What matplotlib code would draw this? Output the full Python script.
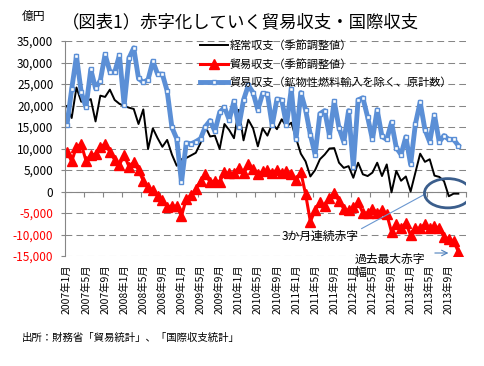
import matplotlib
matplotlib.use("Agg")
import matplotlib.pyplot as plt
from matplotlib.patches import Ellipse

plt.rcParams['font.family'] = ['Noto Sans CJK JP', 'DejaVu Sans']

# monthly values, 2007年1月 - 2013年11月 (億円)
current_account = [
    19900, 17100, 24200, 20900, 21000, 21500, 16300, 22300, 22000, 23700, 21300, 20400,
    19900, 19500, 19200, 15700, 19100, 9900, 14700, 12400, 10400, 12000, 8600, 6000,
    7500, 7800, 8400, 9000, 11300, 15100, 12800, 13000, 9900, 15700, 14300, 12400,
    19000, 11900, 16700, 14700, 10500, 14700, 13000, 15800, 14500, 16800, 15100, 16000,
    12400, 8800, 7000, 3500, 5000, 7500, 8600, 10000, 10100, 6700, 5500, 5900,
    3200, 6700, 4000, 3600, 4400, 6700, 3600, 6300, -200, 4800, 2500, 3500,
    0, 4400, 8800, 6900, 7500, 3700, 3400, 2400, -1100, -500, -500,
]
trade_sa = [
    9300, 7000, 10400, 11000, 7200, 8400, 8700, 10300, 11100, 9200, 7400, 6200,
    8500, 5800, 6800, 5000, 2500, 1000, 300, -1000, -2000, -3500, -3400, -3400,
    -5700, -1700, -900, 500, 2500, 4000, 2200, 2500, 2300, 4500, 4200, 4200,
    5500, 4200, 6300, 5300, 4000, 4700, 5000, 4400, 5000, 4400, 4700, 4000,
    2600, 4500, -600, -7000, -4300, -2500, -3300, -1400, -300, -2200, -4000, -4400,
    -3700, -2500, -5000, -5000, -4000, -5000, -4300, -5300, -9400, -7500, -8600, -7300,
    -10200, -8500, -8600, -7600, -8400, -8000, -8600, -10500, -11000, -11500, -14000,
]
trade_ex_fuel = [
    15400, 23800, 31500, 23100, 19600, 28400, 24000, 25800, 31900, 27900, 27700, 31700,
    20100, 31000, 33400, 26300, 25400, 26000, 30300, 27300, 27300, 23400, 14900, 12300,
    2100, 11300, 11100, 11600, 12300, 15100, 16500, 14000, 18400, 19600, 16700, 21000,
    15100, 21300, 24700, 23000, 19000, 22800, 22700, 15400, 21500, 21300, 15500, 23800,
    12200, 23000, 19000, 13200, 8600, 18100, 18800, 13000, 21000, 14800, 11500, 18800,
    5800, 21300, 21800, 17300, 12100, 19000, 12800, 12100, 16100, 10200, 8600, 12700,
    6300, 15700, 20800, 14400, 11500, 17800, 11500, 13000, 12100, 12100, 10700,
]
tick_labels = [
    '2007年1月', '2007年5月', '2007年9月', '2008年1月', '2008年5月', '2008年9月',
    '2009年1月', '2009年5月', '2009年9月', '2010年1月', '2010年5月', '2010年9月',
    '2011年1月', '2011年5月', '2011年9月', '2012年1月', '2012年5月', '2012年9月',
    '2013年1月', '2013年5月', '2013年9月',
]
y_ticks = [-15000, -10000, -5000, 0, 5000, 10000, 15000, 20000, 25000, 30000, 35000]

months = list(range(len(trade_sa)))
gray = '#868686'
blue = '#5B8FD6'

fig = plt.figure(figsize=(4.84, 3.66), dpi=100)
ax = fig.add_axes([0.1333, 0.3005, 0.8285, 0.5874])

ax.plot(months, current_account, color='black', lw=1.4, label='経常収支（季節調整値）')
ax.plot(months, trade_sa, color='red', lw=2.2, marker='^', ms=7,
        label='貿易収支（季節調整値）')
ax.plot(months, trade_ex_fuel, color=blue, lw=3.5, marker='s', ms=3,
        mfc='white', mec=blue, mew=1, label='貿易収支（鉱物性燃料輸入を除く、原計数）')

ax.set_xlim(-0.5, 83.5)
ax.set_ylim(-15000, 35000)
ax.set_yticks(y_ticks)
ax.set_yticklabels([f'{v:,}' for v in y_ticks], fontsize=8.5)
for lab, v in zip(ax.get_yticklabels(), y_ticks):
    if v < 0:
        lab.set_color('red')
ax.tick_params(axis='y', length=3, color=gray, pad=5)

ax.set_xticks(range(0, len(tick_labels) * 4, 4))
ax.set_xticklabels(tick_labels, rotation=90, fontsize=7.5)
ax.tick_params(axis='x', length=0, pad=6)

ax.grid(axis='y', color=gray, lw=0.75, ls=(0, (6.5, 4)))
ax.set_axisbelow(True)
for s in ['top', 'right', 'bottom']:
    ax.spines[s].set_visible(False)
ax.spines['left'].set_color(gray)

# axis line at zero with tick marks between every 4 months
zero_axis = ax.secondary_xaxis(0.3)
zero_axis.set_xticks([p - 0.5 for p in range(0, 85, 4)])
zero_axis.tick_params(length=3.5, color=gray, labelbottom=False)
zero_axis.spines['bottom'].set_color(gray)

ax.legend(loc='upper left', bbox_to_anchor=(0.413, 0.89), bbox_transform=fig.transFigure,
          frameon=False, fontsize=8, handlelength=2.5, handletextpad=0.2,
          labelspacing=0.68, borderpad=0, borderaxespad=0, numpoints=1)

ax.add_patch(Ellipse((79.8, -400), 9.8, 6800, fill=False, ec='#3B5E8C', lw=2, zorder=5))
ax.annotate('3か月連続赤字', xy=(75.2, -500), xytext=(45, -10500), fontsize=8.5,
            va='center', ha='left',
            arrowprops=dict(arrowstyle='-', color='#6A97D0', lw=0.8,
                            shrinkA=0, shrinkB=0, relpos=(1, 1)))
ax.text(60.2, -14200, '過去最大赤字\n幅', fontsize=8.5, va='top', ha='left',
        linespacing=1.0)
ax.annotate('', xy=(80.5, -14300), xytext=(76.5, -14300),
            arrowprops=dict(arrowstyle='->', color='#4F81BD', lw=0.8))

fig.text(0.128, 0.94, '（図表1）赤字化していく貿易収支・国際収支', fontsize=12.5,
         va='center', ha='left')
fig.text(0.045, 0.955, '億円', fontsize=8.5, va='center', ha='left')
fig.text(0.045, 0.076, '出所：財務省「貿易統計」、「国際収支統計」', fontsize=7.5,
         va='center', ha='left')

fig.savefig('out.png', dpi=100)
